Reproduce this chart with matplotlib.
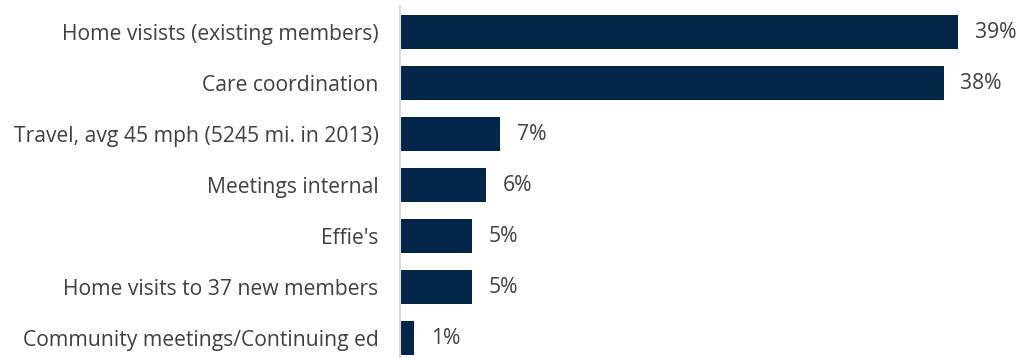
import matplotlib
matplotlib.use("Agg")
import matplotlib.pyplot as plt
import numpy as np

plt.rcParams['font.family'] = ['Open Sans', 'DejaVu Sans']

categories = ["Home visists (existing members)", "Care coordination",
              "Travel, avg 45 mph (5245 mi. in 2013)", "Meetings internal",
              "Effie's", "Home visits to 37 new members",
              "Community meetings/Continuing ed"]
shares = [39, 38, 7, 6, 5, 5, 1]

bar_color = '#022649'
text_color = '#404040'

fig = plt.figure(figsize=(10.17, 3.58), dpi=100)
ax = fig.add_axes([400 / 1017, 0, 617 / 1017, 352 / 358])

y = np.arange(len(categories))
bars = ax.barh(y, shares, height=0.66, color=bar_color)
ax.bar_label(bars, labels=[f"{v}%" for v in shares], padding=12,
             fontsize=15.2, color=text_color)

ax.set_xlim(0, 39 * 617 / 558)
ax.set_ylim(len(categories) - 1 + 0.39, -0.51)
ax.set_yticks(y, categories)
ax.tick_params(axis='y', length=0, pad=15.5, labelsize=15.2, labelcolor=text_color)
ax.set_xticks([])

for side in ['top', 'right', 'bottom']:
    ax.spines[side].set_visible(False)
ax.spines['left'].set_color('#d9d9d9')
ax.spines['left'].set_linewidth(1.5)

fig.savefig('out.png', dpi=100)
